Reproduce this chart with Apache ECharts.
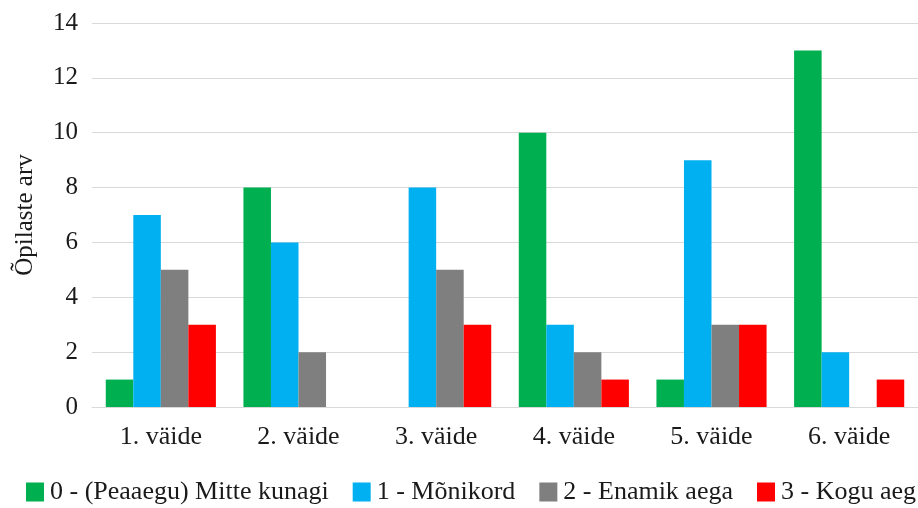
<!DOCTYPE html>
<html>
<head>
<meta charset="utf-8">
<script src="https://cdn.jsdelivr.net/npm/echarts@6/dist/echarts.min.js"></script>
<style>
  html, body { margin: 0; padding: 0; background: #fff; }
  #chart { width: 918px; height: 508px; }
</style>
</head>
<body>
<div id="chart"></div>
<script>
// Statements on the category axis
const categories = ['1. väide', '2. väide', '3. väide', '4. väide', '5. väide', '6. väide'];

// Number of students per answer option
const seriesNames = ['0 - (Peaaegu) Mitte kunagi', '1 - Mõnikord', '2 - Enamik aega', '3 - Kogu aeg'];
const neverValues     = [1, 8, 0, 10, 1, 13];
const sometimesValues = [7, 6, 8, 3, 9, 2];
const mostlyValues    = [5, 2, 5, 2, 3, 0];
const alwaysValues    = [3, 0, 3, 1, 3, 1];

const yTicks = [0, 2, 4, 6, 8, 10, 12, 14];
const yAxisTitle = 'Õpilaste arv';

const colors = ['#00B050', '#00B0F0', '#7F7F7F', '#FF0000'];
const fontFamily = '"Liberation Serif", "Times New Roman", serif';
const textColor = '#1a1a1a';

const values = [neverValues, sometimesValues, mostlyValues, alwaysValues];

const chart = echarts.init(document.getElementById('chart'), null, { renderer: 'canvas' });

chart.setOption({
  animation: false,
  backgroundColor: '#fff',
  textStyle: { fontFamily: fontFamily, color: textColor },
  grid: { left: 92, right: 0, top: 23, bottom: 101, containLabel: false, outerBoundsMode: 'none' },
  legend: {
    left: 26,
    top: 479,
    width: 2000,
    padding: 0,
    icon: 'rect',
    itemWidth: 18,
    itemHeight: 19,
    itemGap: 24,
    textStyle: { fontFamily: fontFamily, fontSize: 26, color: textColor, padding: [0, 0, 0, 1] },
    data: seriesNames
  },
  xAxis: {
    type: 'category',
    data: categories,
    axisLine: { show: true, lineStyle: { color: '#d9d9d9', width: 1 } },
    axisTick: { show: false },
    axisLabel: { fontFamily: fontFamily, fontSize: 26, color: textColor, margin: 17 }
  },
  yAxis: {
    type: 'value',
    min: yTicks[0],
    max: yTicks[yTicks.length - 1],
    interval: 2,
    name: yAxisTitle,
    nameLocation: 'middle',
    nameRotate: 90,
    nameGap: 54,
    nameTextStyle: { fontFamily: fontFamily, fontSize: 25, color: textColor },
    axisLine: { show: false },
    axisTick: { show: false },
    axisLabel: { fontFamily: fontFamily, fontSize: 25, color: textColor, margin: 14 },
    splitLine: { lineStyle: { color: '#d9d9d9', width: 1 } }
  },
  series: seriesNames.map((name, i) => ({
    name: name,
    type: 'bar',
    data: values[i],
    itemStyle: { color: colors[i] },
    barGap: '0%',
    barCategoryGap: '20%'
  }))
});
</script>
</body>
</html>
